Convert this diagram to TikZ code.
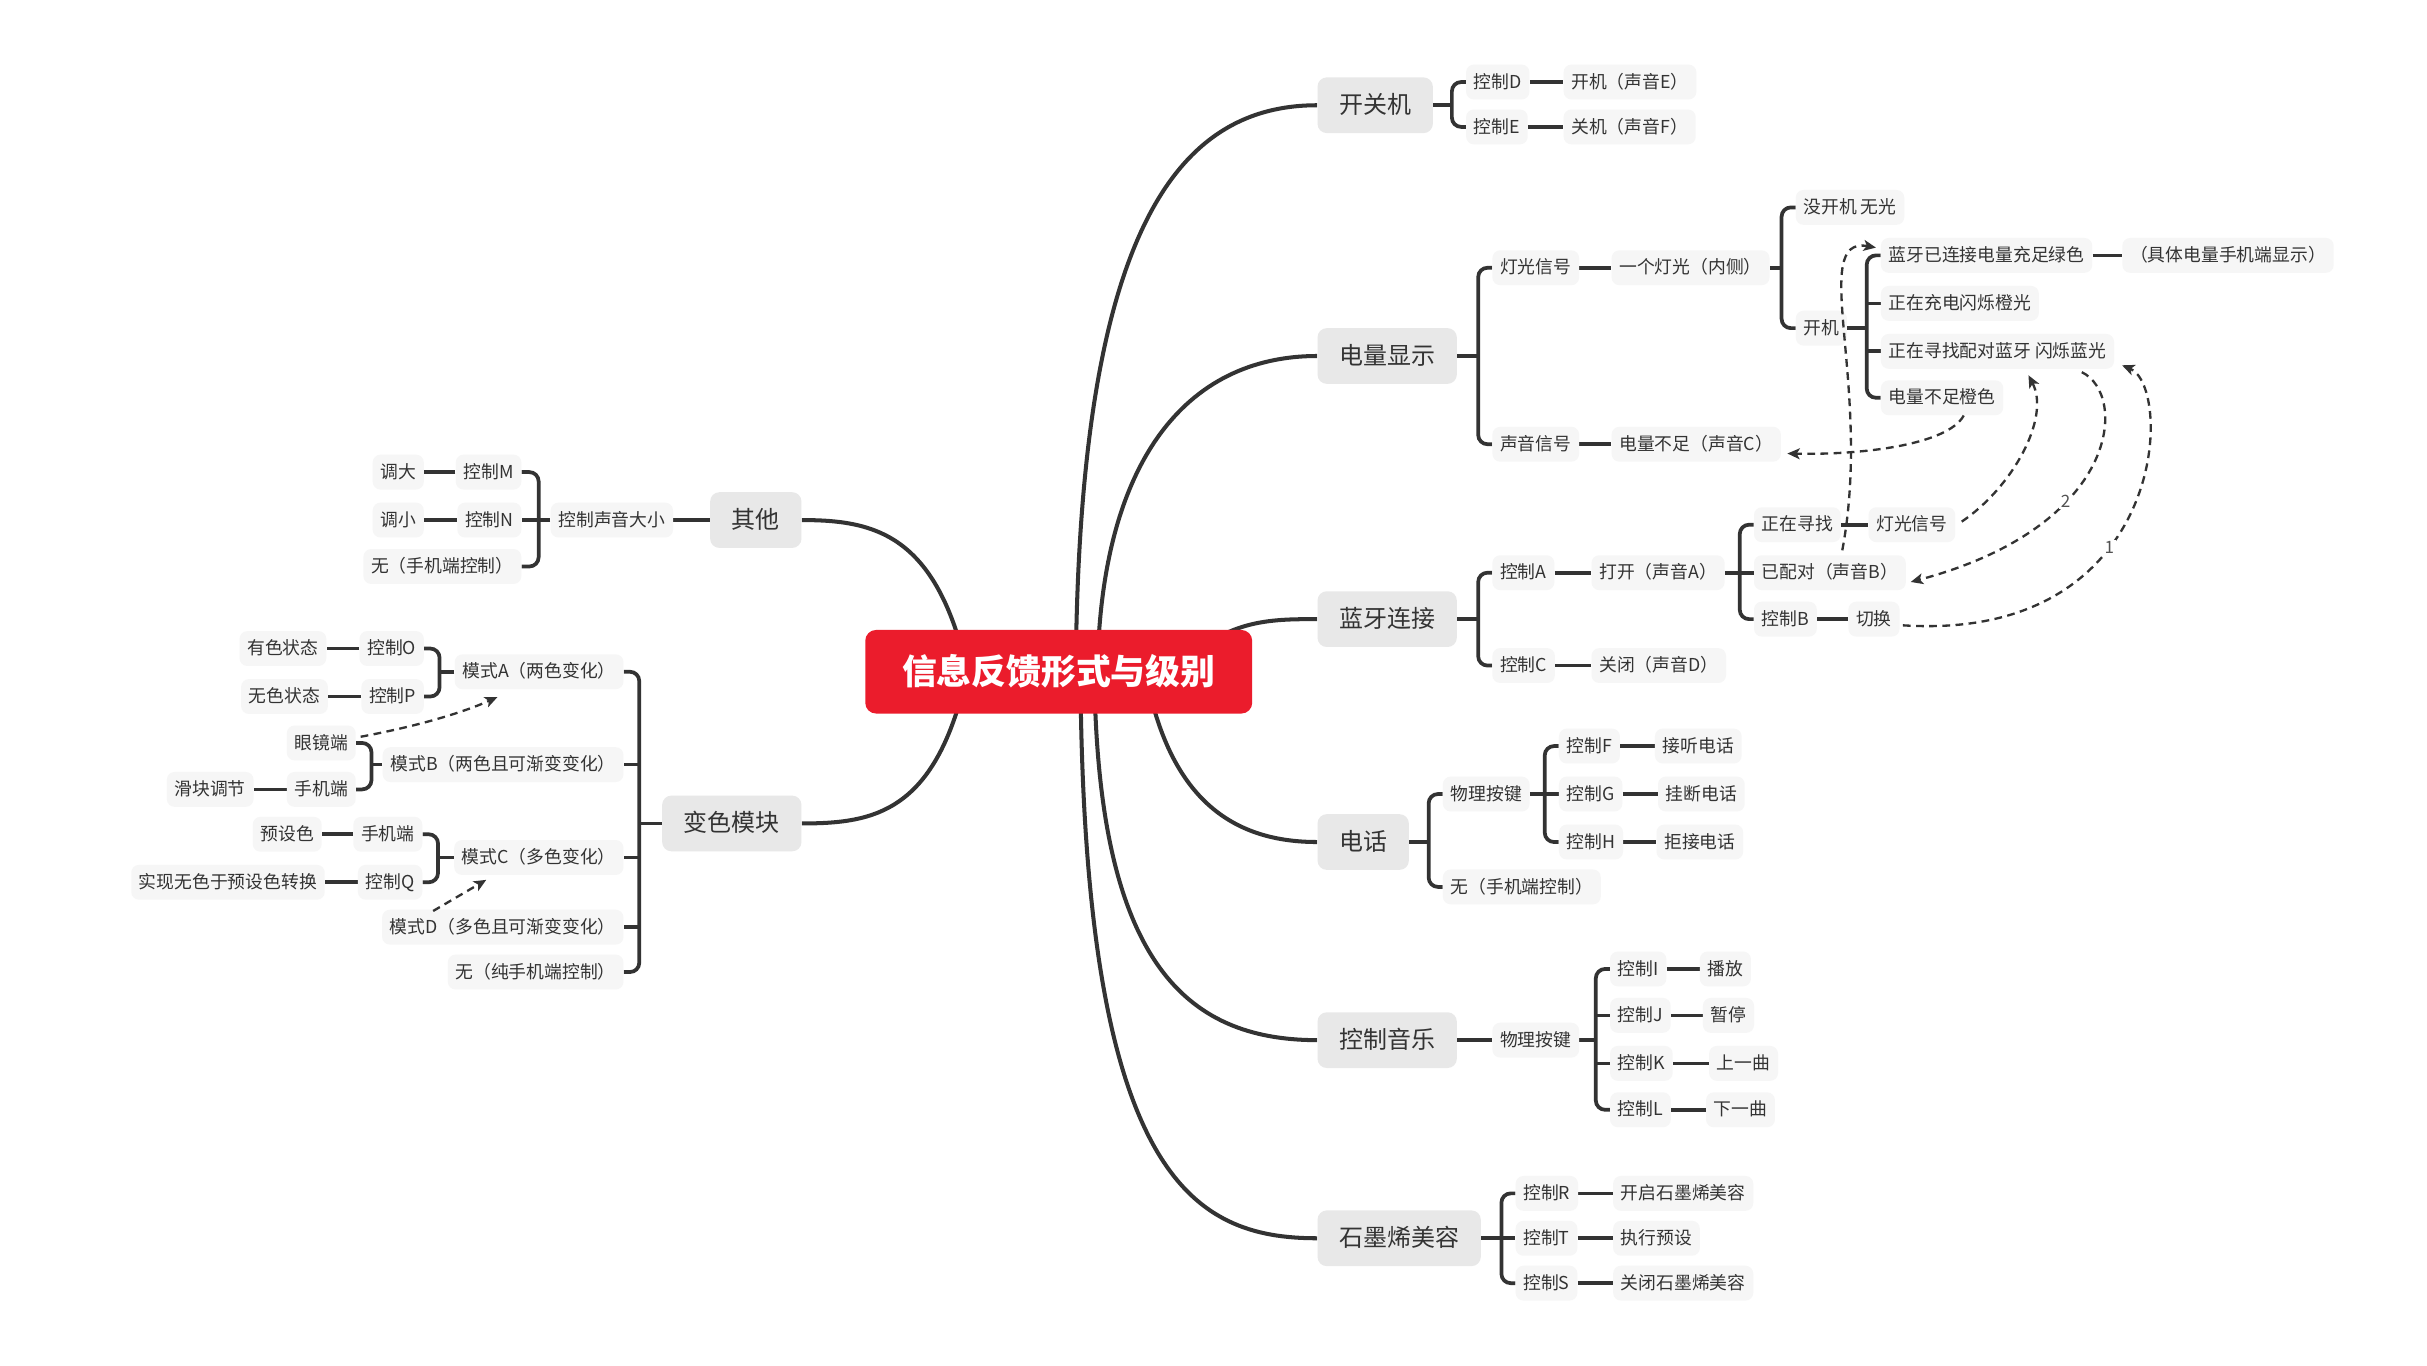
\documentclass[tikz,border=0pt]{standalone}
\usepackage{fontspec}
\setmainfont{Noto Sans CJK SC}
\usetikzlibrary{arrows.meta,backgrounds}
\definecolor{ink}{HTML}{333333}
\definecolor{mainfill}{HTML}{E8E8E8}
\definecolor{leaffill}{HTML}{F6F6F6}
\definecolor{rootred}{HTML}{EB1C2C}

\begin{document}
\begin{tikzpicture}[x=1pt, y=-1pt,
    every node/.style={text=ink},
    root/.style={fill=rootred, text=white, rounded corners=7pt, font=\fontsize{22.5}{26}\selectfont\bfseries,
        text height=19pt, text depth=3pt, minimum width=250pt, minimum height=54pt},
    topic/.style={fill=mainfill, rounded corners=6pt, font=\fontsize{15.5}{18}\selectfont,
        text height=13pt, text depth=2pt, inner xsep=14pt, minimum height=36pt},
    leaf/.style={fill=leaffill, rounded corners=5pt, font=\fontsize{11.5}{14}\selectfont,
        text height=9.6pt, text depth=1.6pt, inner xsep=5pt, minimum height=22.5pt},
    link/.style={draw=ink, line width=2.4pt},
    trunk/.style={draw=ink, line width=2.6pt},
    hint/.style={draw=ink, line width=1.5pt, dash pattern=on 5pt off 3.5pt, -{Stealth[length=8pt,width=7pt,inset=2pt]}},
    tag/.style={text=ink!85, fill=white, font=\fontsize{11}{13}\selectfont, inner sep=1pt}]

    % centre and main topics
    \node[root] (root) at (684,434) {信息反馈形式与级别};
    \node[topic, anchor=west] (pwr) at (851,68) {开关机};
    \node[topic, anchor=west] (bat) at (851,230) {电量显示};
    \node[topic, anchor=west] (bt) at (851,400) {蓝牙连接};
    \node[topic, anchor=west] (phone) at (851,544) {电话};
    \node[topic, anchor=west] (music) at (851,672) {控制音乐};
    \node[topic, anchor=west] (beauty) at (851,800) {石墨烯美容};
    \node[topic, anchor=east] (other) at (518,336) {其他};
    \node[topic, anchor=east] (color) at (518,532) {变色模块};

    % power
    \node[leaf, anchor=west] (ctlD) at (947,53) {控制D};
    \node[leaf, anchor=west] (pwrOn) at (1010,53) {开机（声音E）};
    \node[leaf, anchor=west] (ctlE) at (947,82) {控制E};
    \node[leaf, anchor=west] (pwrOff) at (1010,82) {关机（声音F）};

    % battery
    \node[leaf, anchor=west] (ledSig) at (964,173) {灯光信号};
    \node[leaf, anchor=west] (oneLed) at (1041,173) {一个灯光（内侧）};
    \node[leaf, anchor=west] (ledOff) at (1160,134) {没开机 无光};
    \node[leaf, anchor=west] (ledOn) at (1160,212) {开机};
    \node[leaf, anchor=west] (btGreen) at (1215,165) {蓝牙已连接电量充足绿色};
    \node[leaf, anchor=west] (charging) at (1215,196) {正在充电闪烁橙光};
    \node[leaf, anchor=west] (blueFlash) at (1215,227) {正在寻找配对蓝牙 闪烁蓝光};
    \node[leaf, anchor=west] (lowLed) at (1215,257) {电量不足橙色};
    \node[leaf, anchor=west] (detail) at (1371,165) {（具体电量手机端显示）};
    \node[leaf, anchor=west] (sndSig) at (964,287) {声音信号};
    \node[leaf, anchor=west] (lowSnd) at (1041,287) {电量不足（声音C）};

    % bluetooth
    \node[leaf, anchor=west] (ctlA) at (964,370) {控制A};
    \node[leaf, anchor=west] (openA) at (1028,370) {打开（声音A）};
    \node[leaf, anchor=west] (seek) at (1133,339) {正在寻找};
    \node[leaf, anchor=west] (seekLed) at (1207,339) {灯光信号};
    \node[leaf, anchor=west] (paired) at (1133,370) {已配对（声音B）};
    \node[leaf, anchor=west] (ctlB) at (1133,400) {控制B};
    \node[leaf, anchor=west] (swap) at (1194,400) {切换};
    \node[leaf, anchor=west] (ctlC) at (964,430) {控制C};
    \node[leaf, anchor=west] (closeD) at (1028,430) {关闭（声音D）};

    % phone
    \node[leaf, anchor=west] (phyKey) at (932,513) {物理按键};
    \node[leaf, anchor=west] (phoneNone) at (932,573) {无（手机端控制）};
    \node[leaf, anchor=west] (ctlF) at (1007,482) {控制F};
    \node[leaf, anchor=west] (answer) at (1069,482) {接听电话};
    \node[leaf, anchor=west] (ctlG) at (1007,513) {控制G};
    \node[leaf, anchor=west] (hangup) at (1071,513) {挂断电话};
    \node[leaf, anchor=west] (ctlH) at (1007,544) {控制H};
    \node[leaf, anchor=west] (reject) at (1070,544) {拒接电话};

    % music
    \node[leaf, anchor=west] (musKey) at (964,672) {物理按键};
    \node[leaf, anchor=west] (ctlI) at (1040,626) {控制I};
    \node[leaf, anchor=west] (play) at (1098,626) {播放};
    \node[leaf, anchor=west] (ctlJ) at (1040,656) {控制J};
    \node[leaf, anchor=west] (pause) at (1100,656) {暂停};
    \node[leaf, anchor=west] (ctlK) at (1040,687) {控制K};
    \node[leaf, anchor=west] (prev) at (1104,687) {上一曲};
    \node[leaf, anchor=west] (ctlL) at (1040,717) {控制L};
    \node[leaf, anchor=west] (next) at (1102,717) {下一曲};

    % graphene
    \node[leaf, anchor=west] (ctlR) at (979,771) {控制R};
    \node[leaf, anchor=west] (bOn) at (1042,771) {开启石墨烯美容};
    \node[leaf, anchor=west] (ctlT) at (979,800) {控制T};
    \node[leaf, anchor=west] (bRun) at (1042,800) {执行预设};
    \node[leaf, anchor=west] (ctlS) at (979,829) {控制S};
    \node[leaf, anchor=west] (bOff) at (1042,829) {关闭石墨烯美容};

    % other
    \node[leaf, anchor=east] (vol) at (435,336) {控制声音大小};
    \node[leaf, anchor=east] (ctlM) at (337,305) {控制M};
    \node[leaf, anchor=east] (louder) at (274,305) {调大};
    \node[leaf, anchor=east] (ctlN) at (337,336) {控制N};
    \node[leaf, anchor=east] (softer) at (274,336) {调小};
    \node[leaf, anchor=east] (volNone) at (337,366) {无（手机端控制）};

    % colour module
    \node[leaf, anchor=east] (modeA) at (403,434) {模式A（两色变化）};
    \node[leaf, anchor=east] (modeB) at (403,494) {模式B（两色且可渐变变化）};
    \node[leaf, anchor=east] (modeC) at (403,554) {模式C（多色变化）};
    \node[leaf, anchor=east] (modeD) at (403,599) {模式D（多色且可渐变变化）};
    \node[leaf, anchor=east] (colorNone) at (403,628) {无（纯手机端控制）};
    \node[leaf, anchor=east] (ctlO) at (274,419) {控制O};
    \node[leaf, anchor=east] (tinted) at (211,419) {有色状态};
    \node[leaf, anchor=east] (ctlP) at (274,450) {控制P};
    \node[leaf, anchor=east] (clear) at (212,450) {无色状态};
    \node[leaf, anchor=east] (glass) at (230,480) {眼镜端};
    \node[leaf, anchor=east] (appB) at (230,510) {手机端};
    \node[leaf, anchor=east] (slider) at (164,510) {滑块调节};
    \node[leaf, anchor=east] (appC) at (273,539) {手机端};
    \node[leaf, anchor=east] (preset) at (208,539) {预设色};
    \node[leaf, anchor=east] (ctlQ) at (273,570) {控制Q};
    \node[leaf, anchor=east] (convert) at (210,570) {实现无色于预设色转换};

    \begin{pgfonlayer}{background}
        \fill[white] (0,0) rectangle (1568,882);
        % curved trunks from the centre
        \draw[trunk] ([xshift=11pt]root.center) .. controls (697,150) and (760,68) .. (pwr.west);
        \draw[trunk] ([xshift=25pt]root.center) .. controls (711,300) and (765,230) .. (bat.west);
        \draw[trunk] ([xshift=76pt]root.center) .. controls (790,400) and (820,400) .. (bt.west);
        \draw[trunk] ([xshift=56pt]root.center) .. controls (755,515) and (795,544) .. (phone.west);
        \draw[trunk] ([xshift=23pt]root.center) .. controls (709,620) and (765,672) .. (music.west);
        \draw[trunk] ([xshift=14pt]root.center) .. controls (700,760) and (770,800) .. (beauty.west);
        \draw[trunk] ([xshift=-59pt]root.center) .. controls (605,345) and (565,336) .. (other.east);
        \draw[trunk] ([xshift=-59pt]root.center) .. controls (605,525) and (565,532) .. (color.east);

        % brackets opening to the right
        \foreach \p/\s/\f/\l in {pwr/938/ctlD/ctlE, bat/955/ledSig/sndSig, oneLed/1151/ledOff/ledOn,
                ledOn/1206/btGreen/lowLed, bt/955/ctlA/ctlC, openA/1124/seek/ctlB, phone/923/phyKey/phoneNone,
                phyKey/998/ctlF/ctlH, musKey/1031/ctlI/ctlL, beauty/970/ctlR/ctlS} {
            \coordinate (sp) at (\s,0);
            \draw[link] (\p.east) -- (\p.east -| sp);
            \draw[link, rounded corners=6pt] (\f.west) -- (\f.west -| sp) -- (\l.west -| sp) -- (\l.west);
        }
        \foreach \c/\s in {charging/1206, blueFlash/1206, paired/1124, ctlG/998, ctlJ/1031, ctlK/1031, ctlT/970} {
            \coordinate (sp) at (\s,0);
            \draw[link] (\c.west -| sp) -- (\c.west);
        }
        % brackets opening to the left
        \foreach \p/\s/\f/\l in {vol/348/ctlM/volNone, color/413/modeA/colorNone, modeA/284/ctlO/ctlP,
                modeB/240/glass/appB, modeC/283/appC/ctlQ} {
            \coordinate (sp) at (\s,0);
            \draw[link] (\p.west) -- (\p.west -| sp);
            \draw[link, rounded corners=6pt] (\f.east) -- (\f.east -| sp) -- (\l.east -| sp) -- (\l.east);
        }
        \foreach \c/\s in {ctlN/348, modeB/413, modeC/413, modeD/413} {
            \coordinate (sp) at (\s,0);
            \draw[link] (\c.east -| sp) -- (\c.east);
        }
        % straight links
        \foreach \a/\b in {ctlD/pwrOn, ctlE/pwrOff, ledSig/oneLed, sndSig/lowSnd, btGreen/detail,
                ctlA/openA, ctlC/closeD, seek/seekLed, ctlB/swap, ctlF/answer, ctlG/hangup, ctlH/reject,
                music/musKey, ctlI/play, ctlJ/pause, ctlK/prev, ctlL/next, ctlR/bOn, ctlT/bRun, ctlS/bOff,
                other/vol, ctlM/louder, ctlN/softer, ctlO/tinted, ctlP/clear, appB/slider, appC/preset, ctlQ/convert}
            \draw[link] (\a) -- (\b);
    \end{pgfonlayer}

    % dashed relations
    \draw[hint] ([xshift=14pt]lowLed.south) .. controls (1258,288) and (1200,294) .. ([xshift=4pt,yshift=-6pt]lowSnd.east);
    \draw[hint] ([xshift=8pt,yshift=3pt]paired.north) .. controls (1210,250) and (1168,152) .. ([xshift=-3pt,yshift=5pt]btGreen.west);
    \draw[hint] ([xshift=4pt,yshift=2pt]seekLed.east) .. controls (1300,315) and (1325,270) .. ([xshift=20pt,yshift=-4pt]blueFlash.south);
    \draw[hint] ([xshift=-21pt,yshift=-2pt]blueFlash.south east) .. controls (1375,255) and (1370,340) .. ([xshift=3pt,yshift=-6pt]paired.east)
        node[tag, pos=.64] {2};
    \draw[hint] ([xshift=2pt,yshift=-4pt]swap.east) .. controls (1400,415) and (1405,250) .. ([xshift=5pt,yshift=-9pt]blueFlash.east)
        node[tag, pos=.4] {1};
    \draw[hint] ([xshift=3pt,yshift=4pt]glass.east) .. controls (265,470) and (295,462) .. ([xshift=-27pt,yshift=-5pt]modeA.south);
    \draw[hint] ([xshift=-45pt,yshift=-1pt]modeD.north) -- ([xshift=-34pt,yshift=-3pt]modeC.south);
\end{tikzpicture}
\end{document}
